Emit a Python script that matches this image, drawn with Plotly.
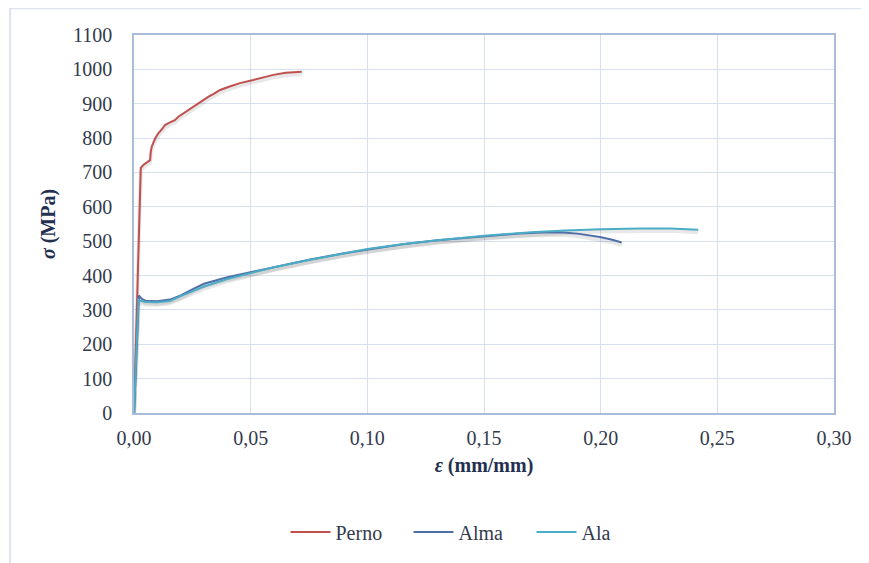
import plotly.graph_objects as go

# Perno
perno_x = [0.0, 0.0029, 0.0040, 0.0055, 0.0069, 0.0072, 0.0076, 0.0090, 0.0104, 0.0120, 0.0133, 0.0150, 0.0175, 0.0190,
           0.0220, 0.0254, 0.0285, 0.0318, 0.0345, 0.0369, 0.0410, 0.0454, 0.0511, 0.0555, 0.0597, 0.0650, 0.0719]
perno_y = [0, 713, 722, 728, 736, 760, 775, 798, 814, 826, 838, 844, 852, 862,
           876, 891, 905, 920, 930, 940, 950, 960, 969, 977, 984, 990, 993]

# Alma
alma_x = [0.0, 0.0021, 0.0028, 0.0035, 0.0050, 0.0100, 0.0154, 0.0200, 0.0250, 0.0300, 0.0400, 0.0500,
          0.0600, 0.0750, 0.0900, 0.1000, 0.1150, 0.1300, 0.1500, 0.1650, 0.1750, 0.1826, 0.1900, 0.1997, 0.2050, 0.2090]
alma_y = [0, 342, 336, 331, 327, 325, 330, 342, 360, 376, 395, 410,
          425, 446, 465, 476, 491, 503, 515, 522, 525, 526, 522, 512, 504, 496]

# Ala
ala_x = [0.0, 0.0019, 0.0026, 0.0035, 0.0050, 0.0100, 0.0154, 0.0200, 0.0250, 0.0300, 0.0400, 0.0500,
         0.0600, 0.0750, 0.0900, 0.1000, 0.1150, 0.1300, 0.1500, 0.1700, 0.1850, 0.2000, 0.2169, 0.2300, 0.2418]
ala_y = [0, 330, 327, 325, 323, 322, 326, 340, 353, 368, 390, 408,
         424, 445, 464, 477, 491, 503, 516, 526, 531, 535, 537, 537, 533]

series = [("Perno", perno_x, perno_y, "#c0504d"),
          ("Alma", alma_x, alma_y, "#4f6fa8"),
          ("Ala", ala_x, ala_y, "#4bacc6")]

x_ticks = [0, 0.05, 0.10, 0.15, 0.20, 0.25, 0.30]
x_tick_labels = ["0,00", "0,05", "0,10", "0,15", "0,20", "0,25", "0,30"]
y_ticks = list(range(0, 1101, 100))

FONT = "Liberation Serif"
TXT = "#333a4d"
TITLE = "#24304f"
FS = 20

fig = go.Figure()

# soft shadows
for name, xs, ys, col in series:
    fig.add_trace(go.Scatter(x=xs, y=[v - 7 for v in ys], mode="lines",
                             line=dict(color="rgba(0,0,0,0.09)", width=4),
                             showlegend=False, hoverinfo="skip"))

for name, xs, ys, col in series:
    fig.add_trace(go.Scatter(x=xs, y=ys, mode="lines", name=name,
                             line=dict(color=col, width=2)))

fig.update_layout(
    width=869, height=563,
    margin=dict(l=126, r=43, t=27, b=158, autoexpand=False),
    paper_bgcolor="white", plot_bgcolor="white",
    font=dict(family=FONT, size=FS, color=TXT),
    showlegend=True,
    legend=dict(orientation="h", x=0.48, xanchor="center", y=-0.315, yanchor="middle",
                font=dict(family=FONT, size=FS, color=TXT), traceorder="normal",
                entrywidth=68, entrywidthmode="pixels", itemwidth=40),
    xaxis=dict(range=[0, 0.30], tickvals=x_ticks, ticktext=x_tick_labels,
               showgrid=True, gridcolor="#d6e0f0", gridwidth=1,
               showline=True, linecolor="#a9bcd9", linewidth=1.5, mirror=True,
               zeroline=False, ticks="", ticklabelstandoff=6,
               tickfont=dict(family=FONT, size=FS, color=TXT),
               title=dict(text="<b><i>ε</i> (mm/mm)</b>", font=dict(family=FONT, size=FS, color=TITLE),
                          standoff=10)),
    yaxis=dict(range=[0, 1100], tickvals=y_ticks,
               showgrid=True, gridcolor="#d6e0f0", gridwidth=1,
               showline=True, linecolor="#a9bcd9", linewidth=1.5, mirror=True,
               zeroline=False, ticks="", ticklabelstandoff=16,
               tickfont=dict(family=FONT, size=FS, color=TXT),
               title=dict(text="<b><i>σ</i> (MPa)</b>", font=dict(family=FONT, size=FS, color=TITLE),
                          standoff=11)),
    shapes=[dict(type="rect", xref="paper", yref="paper",
                 x0=-0.177, x1=1.08, y0=-0.45, y1=1.071,
                 line=dict(color="#dde4f0", width=2), fillcolor="rgba(0,0,0,0)", layer="below")],
)

fig.write_html("out.html")
